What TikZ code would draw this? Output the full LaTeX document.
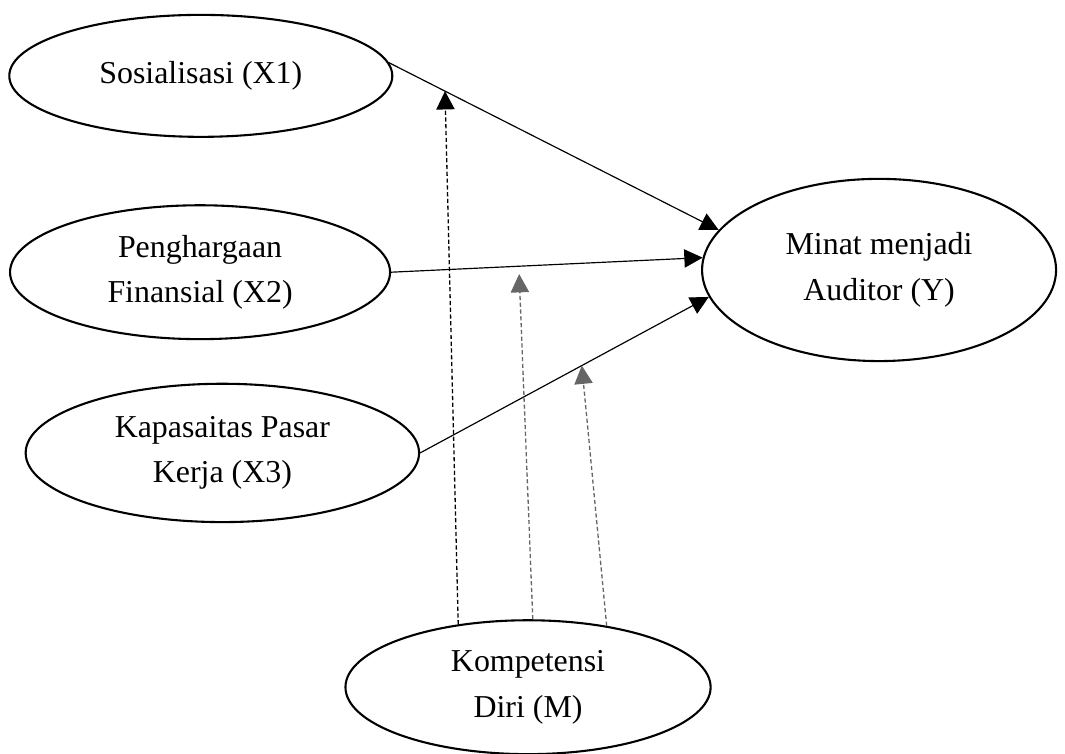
\documentclass[tikz,border=0pt]{standalone}
\usepackage{fontspec}
\setmainfont{Liberation Serif}
\usetikzlibrary{shapes.geometric, arrows.meta, positioning}

\begin{document}
\begin{tikzpicture}[var/.style={draw, ellipse, line width=.8pt, align=center, font=\fontsize{12.2}{17.5}\selectfont},
  arr/.style={-{Triangle[length=7pt,width=7pt]}, line width=.45pt},
  mod/.style={-{Triangle[length=7pt,width=7pt]}, dash pattern=on 1.6pt off 1pt, line width=.5pt}]
\useasboundingbox (0,0) rectangle (14.32,-10.13);

\node[var, minimum width=5.15cm, minimum height=1.64cm] (X1) at (2.70,-1.02) {Sosialisasi (X1)};
\node[var, minimum width=5.11cm, minimum height=1.80cm] (X2) at (2.69,-3.66) {Penghargaan\\Finansial (X2)};
\node[var, minimum width=5.29cm, minimum height=1.86cm] (X3) at (2.99,-6.09) {Kapasaitas Pasar\\Kerja (X3)};
\node[var, minimum width=4.76cm, minimum height=2.45cm] (Y) at (11.82,-3.63) {Minat menjadi\\Auditor (Y)};
\node[var, minimum width=4.91cm, minimum height=1.80cm] (M) at (7.10,-9.24) {Kompetensi\\Diri (M)};

\draw[arr] (X1.4) -- (Y.166) coordinate[pos=.17] (k1);
\draw[arr] (X2.east) -- (Y.176) coordinate[pos=.41] (k2);
\draw[arr] (X3.east) -- (Y.189) coordinate[pos=.56] (k3);

\draw[mod] (M.138) -- (k1);
\draw[mod, black!60, shorten >=3pt] (M.86) -- (k2);
\draw[mod, black!60] (M.38) -- (k3);
\end{tikzpicture}
\end{document}
